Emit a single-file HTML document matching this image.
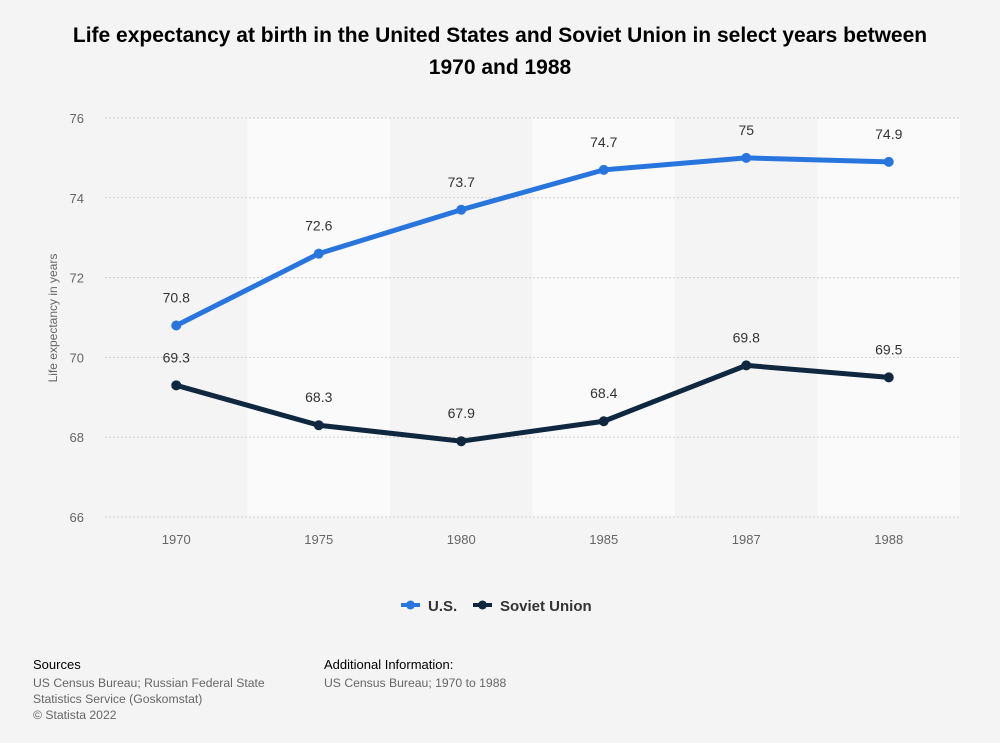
<!DOCTYPE html>
<html><head><meta charset="utf-8"><style>
body{margin:0;background:#f4f4f4;font-family:"Liberation Sans",sans-serif;}
#wrap{position:relative;width:1000px;height:743px;background:#f4f4f4;overflow:hidden}
.t{position:absolute;color:#666;font-size:12.2px;line-height:16px}
</style></head><body>
<div id="wrap">
<svg id="chart" width="1000" height="743" style="position:absolute;left:0;top:0">
<text x="500" y="42" text-anchor="middle" font-size="21" font-weight="bold" fill="#000">Life expectancy at birth in the United States and Soviet Union in select years between</text>
<text x="500" y="74" text-anchor="middle" font-size="21" font-weight="bold" fill="#000">1970 and 1988</text>
<g id="bands"></g><g id="grid"></g><g id="series"></g>
<text transform="translate(57,318) rotate(-90)" text-anchor="middle" font-size="12" fill="#666">Life expectancy in years</text>
<g>
<g><line x1="401" y1="605" x2="420" y2="605" stroke="#2876dd" stroke-width="4"/><circle cx="410.5" cy="605" r="4.5" fill="#2876dd"/><text x="428" y="611" font-size="15" font-weight="bold" fill="#333">U.S.</text></g>
<g><line x1="473" y1="605" x2="492" y2="605" stroke="#0f2840" stroke-width="4"/><circle cx="482.5" cy="605" r="4.5" fill="#0f2840"/><text x="500" y="611" font-size="15" font-weight="bold" fill="#333">Soviet Union</text></g>
</g>
</svg>
<div class="t" style="left:33px;top:657px;color:#000;font-size:13px">Sources</div>
<div class="t" style="left:33px;top:675px">US Census Bureau; Russian Federal State<br>Statistics Service (Goskomstat)<br>© Statista 2022</div>
<div class="t" style="left:324px;top:657px;color:#000;font-size:13px">Additional Information:</div>
<div class="t" style="left:324px;top:675px">US Census Bureau; 1970 to 1988</div>
</div>
<script>
const categories=["1970","1975","1980","1985","1987","1988"];
const usValues=[70.8,72.6,73.7,74.7,75,74.9];
const suValues=[69.3,68.3,67.9,68.4,69.8,69.5];
const yTicks=[66,68,70,72,74,76];
const NS="http://www.w3.org/2000/svg";
const L=105,R=960,T=118,B=517,yMin=66,yMax=76;
const bw=(R-L)/categories.length;
const x=i=>L+bw*(i+0.5);
const y=v=>B-(v-yMin)/(yMax-yMin)*(B-T);
function mk(tag,attrs,parent){const e=document.createElementNS(NS,tag);for(const k in attrs)e.setAttribute(k,attrs[k]);document.getElementById(parent).appendChild(e);return e;}
categories.forEach((c,i)=>{
  if(i%2==1){const r=mk('rect',{x:L+bw*i,y:T,width:bw,height:B-T,fill:'#fafafa'},'bands');
  
  }
  const t=mk('text',{x:x(i),y:B+27,'text-anchor':'middle','font-size':13,fill:'#666'},'grid');t.textContent=c;
  
  
});
yTicks.forEach(v=>{
  const l=mk('line',{x1:L,x2:R,y1:y(v),y2:y(v),stroke:'#cfcfcf','stroke-dasharray':'2,2'},'grid');
  
  
  const t=mk('text',{x:84,y:y(v)+5,'text-anchor':'end','font-size':13,fill:'#666'},'grid');t.textContent=v;
  
  
});
function series(vals,color,name){
  const p=mk('polyline',{points:vals.map((v,i)=>x(i)+','+y(v)).join(' '),fill:'none',stroke:color,'stroke-width':5,'stroke-linejoin':'round'},'series');
  
  
  vals.forEach((v,i)=>{
    const c=mk('circle',{cx:x(i),cy:y(v),r:5,fill:color},'series');
    
    
    const t=mk('text',{x:x(i),y:y(v)-23,'text-anchor':'middle','font-size':14,fill:'#333'},'series');t.textContent=v;
    
    
  });
}
series(usValues,'#2876dd','us');
series(suValues,'#0f2840','soviet-union');
</script>
</body></html>
